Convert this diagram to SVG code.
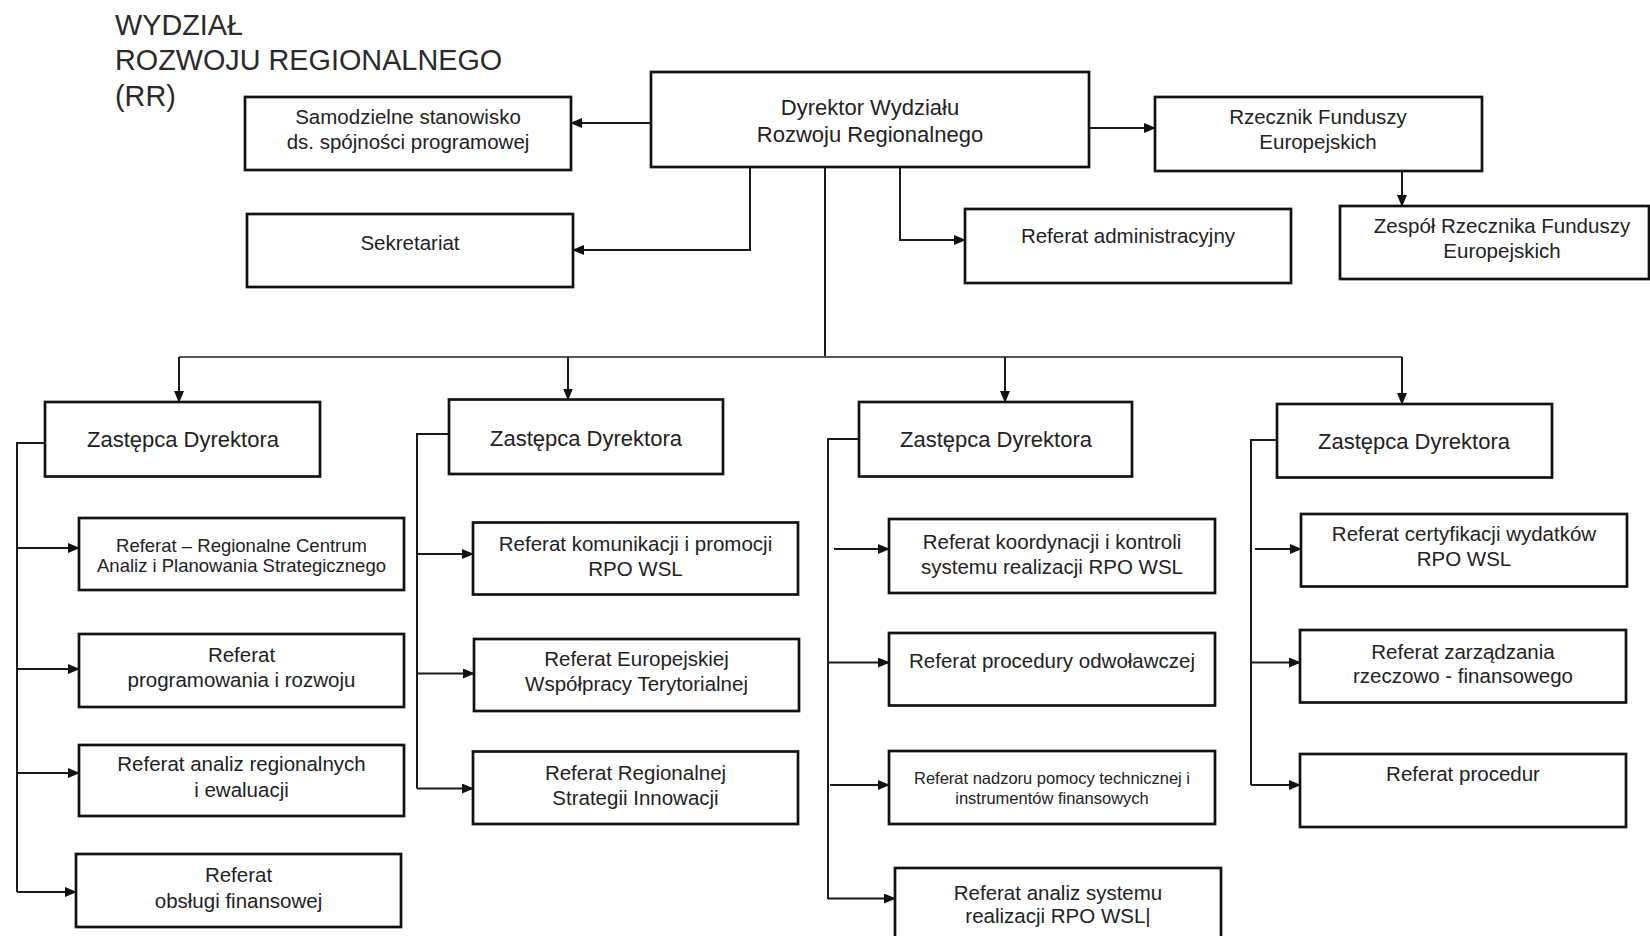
<svg xmlns="http://www.w3.org/2000/svg" width="1650" height="936" viewBox="0 0 1650 936">
<style>
  .box { fill: #ffffff; stroke: #111111; stroke-width: 2.7; }
  .t { font-family: "Liberation Sans", Arial, sans-serif; font-size: 20.5px; fill: #222222; text-anchor: middle; }
  .big { font-size: 22px; }
  .sm { font-size: 18.5px; }
  .xs { font-size: 16.5px; }
  .title { font-family: "Liberation Sans", Arial, sans-serif; font-size: 28.8px; fill: #2a2a2a; }
  .c { fill: none; stroke: #1a1a1a; stroke-width: 2; }
  .a { fill: none; stroke: #1a1a1a; stroke-width: 2; marker-end: url(#ah); }
  .bus { fill: none; stroke: #555555; stroke-width: 2; }
</style>
<defs>
  <marker id="ah" markerWidth="12" markerHeight="10" refX="11" refY="5" orient="auto" markerUnits="userSpaceOnUse">
    <path d="M0,0 L12,5 L0,10 z" fill="#111111"/>
  </marker>
</defs>
<rect width="1650" height="936" fill="#ffffff"/>

<g id="title">
  <text class="title" x="115" y="35">WYDZIAŁ</text>
  <text class="title" x="115" y="70">ROZWOJU REGIONALNEGO</text>
  <text class="title" x="115" y="106">(RR)</text>
</g>

<g id="connectors">
  <path class="a" d="M651,123 H571"/>
  <path class="a" d="M750,167 V250 H573"/>
  <path class="a" d="M900,167 V240 H965"/>
  <path class="a" d="M1089,128 H1155"/>
  <path class="a" d="M1402,171 V206"/>
  <path class="c" d="M825,167 V357"/>
  <path class="bus" d="M179,357 H1402"/>
  <path class="a" d="M179,357 V402"/>
  <path class="a" d="M568,357 V399.5"/>
  <path class="a" d="M1005,357 V402"/>
  <path class="a" d="M1402,357 V404"/>
  <!-- column 1 -->
  <path class="c" d="M45,443 H17 V892"/>
  <path class="a" d="M17,548 H79"/>
  <path class="a" d="M17,669 H79"/>
  <path class="a" d="M17,773 H79"/>
  <path class="a" d="M17,892 H76"/>
  <!-- column 2 -->
  <path class="c" d="M449,434 H417 V788.5"/>
  <path class="a" d="M417,554 H473"/>
  <path class="a" d="M417,673.5 H474"/>
  <path class="a" d="M417,788.5 H473"/>
  <!-- column 3 -->
  <path class="c" d="M859,439 H828 V899"/>
  <path class="a" d="M834,549 H889"/>
  <path class="a" d="M828,662.5 H889"/>
  <path class="a" d="M830,785 H889"/>
  <path class="a" d="M828,898.5 H895"/>
  <!-- column 4 -->
  <path class="c" d="M1277,440 H1251 V785"/>
  <path class="a" d="M1255,549 H1301"/>
  <path class="a" d="M1251,662.5 H1300"/>
  <path class="a" d="M1251,785 H1300"/>
</g>

<g id="dyrektor">
  <rect class="box" x="651" y="72" width="438" height="95"/>
  <text class="t big" x="870" y="115">Dyrektor Wydziału</text>
  <text class="t big" x="870" y="142">Rozwoju Regionalnego</text>
</g>
<g id="samodzielne">
  <rect class="box" x="245" y="97" width="326" height="73"/>
  <text class="t" x="408" y="124">Samodzielne stanowisko</text>
  <text class="t" x="408" y="149">ds. spójności programowej</text>
</g>
<g id="sekretariat">
  <rect class="box" x="247" y="214" width="326" height="73"/>
  <text class="t" x="410" y="250">Sekretariat</text>
</g>
<g id="referat-administracyjny">
  <rect class="box" x="965" y="209" width="326" height="74"/>
  <text class="t" x="1128" y="243">Referat administracyjny</text>
</g>
<g id="rzecznik">
  <rect class="box" x="1155" y="97" width="327" height="74"/>
  <text class="t" x="1318" y="124">Rzecznik Funduszy</text>
  <text class="t" x="1318" y="149">Europejskich</text>
</g>
<g id="zespol-rzecznika">
  <rect class="box" x="1340" y="206" width="309" height="73"/>
  <text class="t" x="1502" y="233">Zespół Rzecznika Funduszy</text>
  <text class="t" x="1502" y="258">Europejskich</text>
</g>

<g id="zastepca-1">
  <rect class="box" x="45" y="402" width="275" height="74.5"/>
  <text class="t big" x="183" y="447">Zastępca Dyrektora</text>
</g>
<g id="zastepca-2">
  <rect class="box" x="449" y="399.5" width="274" height="74.5"/>
  <text class="t big" x="586" y="445.5">Zastępca Dyrektora</text>
</g>
<g id="zastepca-3">
  <rect class="box" x="859" y="402" width="273" height="74.5"/>
  <text class="t big" x="996" y="446.5">Zastępca Dyrektora</text>
</g>
<g id="zastepca-4">
  <rect class="box" x="1277" y="404" width="275" height="73.5"/>
  <text class="t big" x="1414" y="448.5">Zastępca Dyrektora</text>
</g>

<g id="r-centrum">
  <rect class="box" x="79" y="518" width="325" height="72"/>
  <text class="t sm" x="241.5" y="552">Referat – Regionalne Centrum</text>
  <text class="t sm" x="241.5" y="571.5">Analiz i Planowania Strategicznego</text>
</g>
<g id="r-programowania">
  <rect class="box" x="79" y="634" width="325" height="73"/>
  <text class="t" x="241.5" y="662">Referat</text>
  <text class="t" x="241.5" y="687">programowania i rozwoju</text>
</g>
<g id="r-analiz-regionalnych">
  <rect class="box" x="79" y="745" width="325" height="71"/>
  <text class="t" x="241.5" y="771">Referat analiz regionalnych</text>
  <text class="t" x="241.5" y="797">i ewaluacji</text>
</g>
<g id="r-obslugi">
  <rect class="box" x="76" y="854" width="325" height="73"/>
  <text class="t" x="238.5" y="882">Referat</text>
  <text class="t" x="238.5" y="908">obsługi finansowej</text>
</g>

<g id="r-komunikacji">
  <rect class="box" x="473" y="522.5" width="325" height="72"/>
  <text class="t" x="635.5" y="551">Referat komunikacji i promocji</text>
  <text class="t" x="635.5" y="575.5">RPO WSL</text>
</g>
<g id="r-ewt">
  <rect class="box" x="474" y="639" width="325" height="72"/>
  <text class="t" x="636.5" y="665.5">Referat Europejskiej</text>
  <text class="t" x="636.5" y="691">Współpracy Terytorialnej</text>
</g>
<g id="r-rsi">
  <rect class="box" x="473" y="751.5" width="325" height="72.5"/>
  <text class="t" x="635.5" y="779.5">Referat Regionalnej</text>
  <text class="t" x="635.5" y="805">Strategii Innowacji</text>
</g>

<g id="r-koordynacji">
  <rect class="box" x="889" y="519" width="326" height="74"/>
  <text class="t" x="1052" y="548.5">Referat koordynacji i kontroli</text>
  <text class="t" x="1052" y="573.5">systemu realizacji RPO WSL</text>
</g>
<g id="r-odwolawczej">
  <rect class="box" x="889" y="633" width="326" height="72.5"/>
  <text class="t" x="1052" y="668">Referat procedury odwoławczej</text>
</g>
<g id="r-nadzoru">
  <rect class="box" x="889" y="751" width="326" height="73"/>
  <text class="t xs" x="1052" y="784">Referat nadzoru pomocy technicznej i</text>
  <text class="t xs" x="1052" y="803.5">instrumentów finansowych</text>
</g>
<g id="r-analiz-systemu">
  <rect class="box" x="895" y="868" width="326" height="80"/>
  <text class="t" x="1058" y="900">Referat analiz systemu</text>
  <text class="t" x="1058" y="923">realizacji RPO WSL|</text>
</g>

<g id="r-certyfikacji">
  <rect class="box" x="1301" y="514" width="326" height="72.5"/>
  <text class="t" x="1464" y="541">Referat certyfikacji wydatków</text>
  <text class="t" x="1464" y="566">RPO WSL</text>
</g>
<g id="r-zarzadzania">
  <rect class="box" x="1300" y="630" width="326" height="72.5"/>
  <text class="t" x="1463" y="658.5">Referat zarządzania</text>
  <text class="t" x="1463" y="683">rzeczowo - finansowego</text>
</g>
<g id="r-procedur">
  <rect class="box" x="1300" y="754" width="326" height="73"/>
  <text class="t" x="1463" y="781">Referat procedur</text>
</g>
</svg>
